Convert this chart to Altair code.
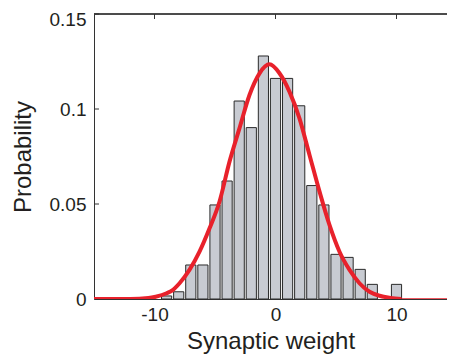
import altair as alt
import pandas as pd

# Histogram (bin centres and probabilities)
bin_centers = [-9, -8, -7, -6, -5, -4, -3, -2, -1, 0, 1, 2, 3, 4, 5, 6, 7, 8, 10]
bin_probs = [0.0016, 0.0038, 0.0179, 0.0179, 0.0495, 0.0621, 0.1042, 0.0902,
             0.1279, 0.1161, 0.1161, 0.1017, 0.0597, 0.0495, 0.0235, 0.0219,
             0.0156, 0.0077, 0.0077]

# Fitted curve
fit_x = [-15, -12, -10.5, -9.9, -9, -8.5, -7.93, -7.11, -6.28, -5.45, -4.63,
         -3.8, -2.98, -2.15, -1.32, -0.5, 0.33, 1.16, 1.98, 2.81, 3.64, 4.46,
         5.29, 6.12, 6.94, 7.77, 8.6, 9.5, 10.4]
fit_y = [0, 0, 0.0005, 0.0012, 0.003, 0.0047, 0.0083, 0.0153, 0.0249, 0.0372,
         0.0512, 0.0723, 0.0898, 0.1074, 0.1188, 0.1235, 0.1188, 0.109, 0.0951,
         0.0758, 0.0565, 0.039, 0.0249, 0.0153, 0.0083, 0.0038, 0.0017, 0.0006, 0]
tail_x = [10.4, 15]
tail_y = [0, 0]

x_ticks = [-10, 0, 10]
y_ticks = [0, 0.05, 0.1, 0.15]

W, H = 353, 285
FONT = "Liberation Sans"
X_MAX = -15 + W / 12.1  # right edge of the visible range (reference is cropped)

bars_df = pd.DataFrame({"c": bin_centers, "p": bin_probs})
fit_df = pd.DataFrame({"x": fit_x, "y": fit_y})
tail_df = pd.DataFrame({"x": tail_x, "y": tail_y})
xt_df = pd.DataFrame({"v": x_ticks})
yt_df = pd.DataFrame({"v": y_ticks})

xs = alt.Scale(domain=[-15, X_MAX], nice=False, zero=False)
ys = alt.Scale(domain=[0, 0.15], nice=False)

x_axis = alt.Axis(values=x_ticks, title="Synaptic weight", labelExpr="'' + datum.value",
                  ticks=False, grid=False, labelPadding=6, titleY=49,
                  titleBaseline="alphabetic")
y_axis = alt.Axis(values=y_ticks, title="Probability", labelExpr="'' + datum.value",
                  ticks=False, grid=False, labelPadding=8, titleX=-64, titleY=H / 2,
                  titleAngle=-90, titleAlign="center", titleBaseline="alphabetic",
                  labelOffset={"condition": {"test": "datum.value >= 0.14", "value": 5},
                               "value": 0})

bars = alt.Chart(bars_df).transform_calculate(
    lo="datum.c - 0.42", hi="datum.c + 0.42"
).mark_rect(fill="#c8cbd2", stroke="#2a2a2a", strokeWidth=1).encode(
    x=alt.X("lo:Q", scale=xs, axis=x_axis),
    x2="hi:Q",
    y=alt.Y("p:Q", scale=ys, axis=y_axis),
    y2=alt.datum(0),
)

curve = alt.Chart(fit_df).mark_line(color="#e8212b", strokeWidth=4, clip=True,
                                    interpolate="monotone").encode(
    x=alt.X("x:Q", scale=xs), y=alt.Y("y:Q", scale=ys))

tail = alt.Chart(tail_df).mark_line(color="#e8212b", strokeWidth=1.5, clip=True).encode(
    x=alt.X("x:Q", scale=xs), y=alt.Y("y:Q", scale=ys))

left_ticks = alt.Chart(yt_df).mark_rule(color="#333", strokeWidth=1).encode(
    y=alt.Y("v:Q", scale=ys), x=alt.value(0), x2=alt.value(5))
top_ticks = alt.Chart(xt_df).mark_rule(color="#333", strokeWidth=1).encode(
    x=alt.X("v:Q", scale=xs), y=alt.value(0), y2=alt.value(5))
top_line = alt.Chart(xt_df).mark_rule(color="#333", strokeWidth=1).encode(
    x=alt.value(0), x2=alt.value(W), y=alt.value(0))

chart = alt.layer(left_ticks, top_ticks, top_line, bars, curve, tail).properties(
    width=W, height=H,
    autosize=alt.AutoSizeParams(type="none"),
    padding={"left": 86, "top": 6, "right": 0, "bottom": 56},
).configure_view(strokeWidth=0).configure_axis(
    domainColor="#333", domainWidth=1,
    labelFont=FONT, labelFontSize=19, labelColor="#231f20",
    titleFont=FONT, titleFontSize=24, titleFontWeight="normal", titleColor="#231f20",
)

chart.save("out.html", embed_options={"renderer": "svg", "actions": False})
